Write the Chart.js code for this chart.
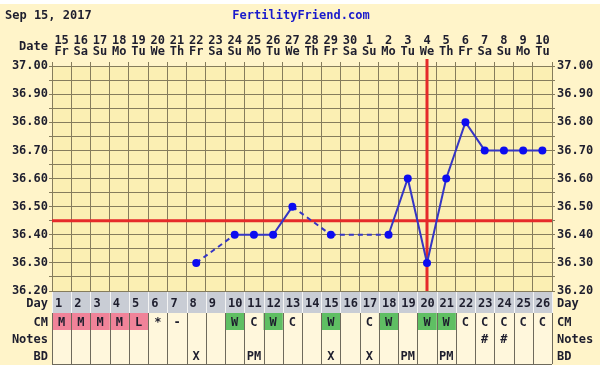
<!DOCTYPE html>
<html>
<head>
<meta charset="utf-8">
<script src="https://cdn.jsdelivr.net/npm/chart.js@4.4.1/dist/chart.umd.min.js"></script>
<style>
  html, body { margin: 0; padding: 0; background: #fff; }
  #chart { display: block; }
</style>
</head>
<body>
<canvas id="chart" width="600" height="365"></canvas>
<script>
// chart data
const chartDate = 'Sep 15, 2017';
const siteName = 'FertilityFriend.com';
const dates = ['15','16','17','18','19','20','21','22','23','24','25','26','27','28','29','30','1','2','3','4','5','6','7','8','9','10'];
const weekdays = ['Fr','Sa','Su','Mo','Tu','We','Th','Fr','Sa','Su','Mo','Tu','We','Th','Fr','Sa','Su','Mo','Tu','We','Th','Fr','Sa','Su','Mo','Tu'];
const cycleDays = ['1','2','3','4','5','6','7','8','9','10','11','12','13','14','15','16','17','18','19','20','21','22','23','24','25','26'];
const temps = [null, null, null, null, null, null, null, 36.30, null, 36.40, 36.40, 36.40, 36.50, null, 36.40, null, null, 36.40, 36.60, 36.30, 36.60, 36.80, 36.70, 36.70, 36.70, 36.70];
const cmCodes = ['M','M','M','M','L','*','-','','','W','C','W','C','','W','','C','W','','W','W','C','C','C','C','C'];
const notes = ['','','','','','','','','','','','','','','','','','','','','','','#','#','',''];
const bd = ['','','','','','','','X','','','PM','','','','X','','X','','PM','','PM','','','','',''];
const coverline = 36.45;
const ovulationDay = 20;
const tempMin = 36.2;
const tempMax = 37.0;

// look
const FONT = 'DejaVu Sans Mono';
const INK = '#1e1e2e';
const OUTER_BG = '#fff4c9';
const PLOT_BG = '#fbefb3';
const GRID = '#857c5c';
const RED = '#e52a2a';
const PINK = '#f08399';
const GREEN = '#5fbf63';
const DAY_BG = '#c9cdd5';
const CELL_BG = '#fff7dc';

const rowHeights = [21, 17, 17, 17];
const rowLabels = ['Day', 'CM', 'Notes', 'BD'];

function cmColor(code) {
  if (code === 'M' || code === 'L') return PINK;
  if (code === 'W') return GREEN;
  return null;
}

const backgroundPlugin = {
  id: 'paper',
  beforeDraw(chart) {
    const { ctx, chartArea: a } = chart;
    ctx.save();
    ctx.fillStyle = OUTER_BG;
    ctx.fillRect(0, 0, chart.width, chart.height);
    ctx.fillStyle = '#ffffff';
    ctx.fillRect(0, 0, chart.width, 4);
    ctx.fillStyle = PLOT_BG;
    ctx.fillRect(a.left, a.top, a.right - a.left, a.bottom - a.top);

    // header texts
    ctx.font = `bold 12px ${FONT}`;
    ctx.fillStyle = INK;
    ctx.textBaseline = 'middle';
    ctx.textAlign = 'left';
    ctx.fillText(chartDate, 5, 16);
    ctx.fillStyle = '#1a1acc';
    ctx.textAlign = 'center';
    ctx.fillText(siteName, 301, 16);
    ctx.fillStyle = INK;
    ctx.textAlign = 'right';
    ctx.fillText('Date', 48, 47);
    ctx.restore();
  }
};

const markersPlugin = {
  id: 'markers',
  beforeDatasetsDraw(chart) {
    const { ctx, chartArea: a, scales } = chart;
    const y = scales.y.getPixelForValue(coverline);
    const x = scales.x.getPixelForValue(ovulationDay - 1);
    ctx.save();
    ctx.strokeStyle = RED;
    ctx.lineWidth = 3;
    ctx.beginPath();
    ctx.moveTo(a.left, y);
    ctx.lineTo(a.right, y);
    ctx.moveTo(x, a.top - 7);
    ctx.lineTo(x, a.bottom);
    ctx.stroke();
    ctx.restore();
  }
};

const tablePlugin = {
  id: 'cycleTable',
  afterDraw(chart) {
    const { ctx, chartArea: a, scales } = chart;
    const xs = scales.x;
    const colW = xs.getPixelForValue(1) - xs.getPixelForValue(0);
    const rows = [cycleDays, cmCodes, notes, bd];
    let top = a.bottom + 1;
    ctx.save();
    ctx.font = `bold 12px ${FONT}`;
    ctx.textBaseline = 'middle';
    rows.forEach((vals, r) => {
      const h = rowHeights[r];
      ctx.fillStyle = r === 0 ? DAY_BG : CELL_BG;
      ctx.fillRect(a.left, top, a.right - a.left, h);
      vals.forEach((v, i) => {
        const cx = xs.getPixelForValue(i);
        const x0 = cx - colW / 2;
        if (r === 1) {
          const c = cmColor(v);
          if (c) {
            ctx.fillStyle = c;
            ctx.fillRect(x0, top, colW, h);
          }
        }
        if (v) {
          ctx.fillStyle = INK;
          if (r === 0) {
            ctx.textAlign = 'left';
            ctx.fillText(v, x0 + 3, top + h / 2 + 1);
          } else {
            ctx.textAlign = 'center';
            ctx.fillText(v, cx, top + h / 2 + 1);
          }
        }
      });
      // cell lines
      ctx.strokeStyle = r === 0 ? '#f4f4f4' : '#6e6a5c';
      ctx.lineWidth = 1;
      ctx.beginPath();
      for (let i = 0; i <= vals.length; i++) {
        const lx = Math.round(xs.getPixelForValue(i) - colW / 2) + 0.5;
        ctx.moveTo(lx, top);
        ctx.lineTo(lx, top + h);
      }
      ctx.stroke();
      ctx.strokeStyle = '#6e6a5c';
      ctx.beginPath();
      ctx.moveTo(a.left, Math.round(top + h) + 0.5);
      ctx.lineTo(a.right, Math.round(top + h) + 0.5);
      ctx.stroke();

      ctx.fillStyle = INK;
      ctx.textAlign = 'right';
      ctx.fillText(rowLabels[r], 48, top + h / 2 + 1);
      ctx.textAlign = 'left';
      ctx.fillText(rowLabels[r], 557, top + h / 2 + 1);
      top += h;
    });
    ctx.restore();
  }
};

function tempLabel(v) {
  const tenths = v * 10;
  return Math.abs(tenths - Math.round(tenths)) < 1e-6 ? v.toFixed(2) : '';
}

const tickFont = { family: FONT, size: 12, weight: 'bold', lineHeight: 0.95 };

new Chart(document.getElementById('chart'), {
  type: 'line',
  data: {
    labels: cycleDays,
    datasets: [{
      data: temps,
      spanGaps: true,
      borderColor: '#3535c5',
      borderWidth: 2,
      pointRadius: 4,
      pointHoverRadius: 4,
      pointBackgroundColor: '#0c0cf0',
      pointBorderWidth: 0,
      segment: {
        // dashed where the line jumps over a missing day
        borderDash: ctx => (temps[ctx.p0DataIndex] === null ? [5, 4] : undefined)
      }
    }]
  },
  options: {
    responsive: false,
    animation: false,
    layout: { padding: { top: 0, bottom: 74, left: 0, right: 0 } },
    plugins: {
      legend: { display: false },
      tooltip: { enabled: false }
    },
    scales: {
      x: {
        position: 'top',
        offset: true,
        grid: { offset: true, color: GRID, tickLength: 4 },
        border: { color: GRID },
        ticks: {
          autoSkip: false,
          maxRotation: 0,
          padding: 4,
          color: INK,
          font: tickFont,
          callback: (v, i) => [dates[i], weekdays[i]]
        },
        afterFit: s => { s.height = 66; }
      },
      y: {
        min: tempMin,
        max: tempMax,
        grid: { color: GRID, tickLength: 3 },
        border: { color: GRID },
        ticks: {
          stepSize: 0.05,
          autoSkip: false,
          padding: 1,
          color: INK,
          font: { family: FONT, size: 12, weight: 'bold' },
          callback: v => tempLabel(v)
        },
        afterFit: s => { s.width = 52; }
      },
      y2: {
        position: 'right',
        min: tempMin,
        max: tempMax,
        grid: { drawOnChartArea: false, color: GRID, tickLength: 3 },
        border: { color: GRID },
        ticks: {
          stepSize: 0.05,
          autoSkip: false,
          padding: 2,
          color: INK,
          font: { family: FONT, size: 12, weight: 'bold' },
          callback: v => tempLabel(v)
        },
        afterFit: s => { s.width = 48; }
      }
    }
  },
  plugins: [backgroundPlugin, markersPlugin, tablePlugin]
});
</script>
</body>
</html>
